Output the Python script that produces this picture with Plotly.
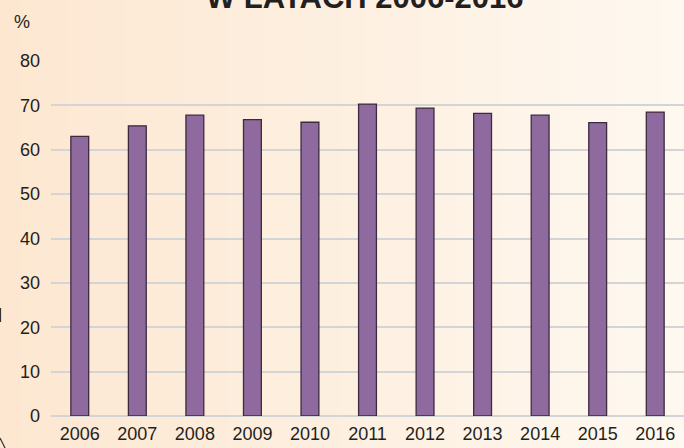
import plotly.graph_objects as go

years = ["2006", "2007", "2008", "2009", "2010", "2011", "2012", "2013", "2014", "2015", "2016"]
values = [63.0, 65.4, 67.8, 66.8, 66.2, 70.3, 69.4, 68.2, 67.8, 66.1, 68.5]
y_ticks = [0, 10, 20, 30, 40, 50, 60, 70, 80]

W, H = 684, 448
ml, mr, mt, mb = 51, 0, 61, 32

fig = go.Figure()
fig.add_trace(go.Bar(
    x=years, y=values,
    marker=dict(color="#8f6a9e", line=dict(color="#3b2b3d", width=1.3)),
    hoverinfo="x+y",
))

# background gradient strips (paper coordinates spanning the whole figure)
pw = W - ml - mr
ph = H - mt - mb
x0p = -ml / pw
x1p = (W - ml) / pw
y0p = -mb / ph
y1p = (H - mb) / ph
n = 60
c0 = (253, 231, 209)
c1 = (254, 248, 240)
shapes = []
for i in range(n):
    t = i / (n - 1)
    col = tuple(round(c0[k] + (c1[k] - c0[k]) * t) for k in range(3))
    xa = x0p + (x1p - x0p) * i / n
    xb = x0p + (x1p - x0p) * (i + 1) / n + 0.002
    shapes.append(dict(type="rect", xref="paper", yref="paper", x0=xa, x1=xb,
                       y0=y0p, y1=y1p, fillcolor="rgb(%d,%d,%d)" % col,
                       line=dict(width=0), layer="below"))
# small decorative strokes at left edge
def px(x):
    return (x - ml) / pw
def py(y):
    return (H - mb - y) / ph
shapes.append(dict(type="line", xref="paper", yref="paper", x0=px(0.5), x1=px(0.5),
                   y0=py(308), y1=py(322), line=dict(color="#333333", width=1.2)))
shapes.append(dict(type="line", xref="paper", yref="paper", x0=px(0), x1=px(5),
                   y0=py(438), y1=py(448), line=dict(color="#333333", width=1.2)))

fig.update_layout(
    width=W, height=H,
    margin=dict(l=ml, r=mr, t=mt, b=mb, pad=0),
    paper_bgcolor="#fdeedd",
    plot_bgcolor="rgba(0,0,0,0)",
    bargap=0.69,
    showlegend=False,
    shapes=shapes,
    font=dict(family="Liberation Sans, Arial, sans-serif", color="#231f20"),
    xaxis=dict(
        tickfont=dict(size=18),
        showgrid=False, showline=False, ticks="", ticklabelstandoff=5,
    ),
    yaxis=dict(
        range=[0, 80], tickvals=y_ticks, tickfont=dict(size=18),
        showgrid=True, gridcolor="#d2d4d6", gridwidth=2,
        zeroline=True, zerolinecolor="#d2d4d6", zerolinewidth=2,
        showline=False, ticks="", ticklabelstandoff=10,
    ),
    annotations=[
        dict(text="%", xref="paper", yref="paper", x=px(22), y=py(22), xanchor="center", yanchor="middle",
             showarrow=False, font=dict(size=18)),
        dict(text="<b>W LATACH 2006-2016</b>", xref="paper", yref="paper", x=px(365), y=py(-3),
             xanchor="center", yanchor="middle", showarrow=False,
             font=dict(size=31, family="Liberation Sans, Arial, sans-serif", color="#231f20")),
    ],
)

fig.write_html(
    "out.html",
    config={"displayModeBar": False},
    post_script="document.body.style.margin='0';document.body.style.overflow='hidden';",
)
